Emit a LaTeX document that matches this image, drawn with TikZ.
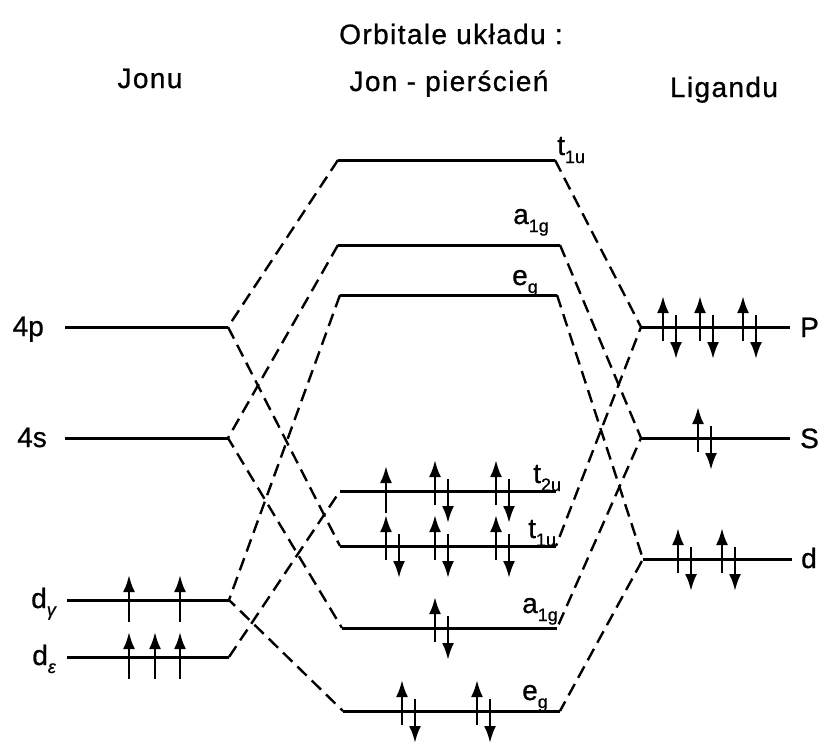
\documentclass[tikz,border=0pt]{standalone}
\usepackage{fontspec}
\setmainfont{Liberation Sans}[FakeBold=0.8]
\usetikzlibrary{arrows.meta}
\newcommand{\lsub}[1]{\raisebox{-8pt}{\fontsize{18}{19}\selectfont #1}}
\tikzset{
  lev/.style={line width=3pt},
  link/.style={line width=2.4pt, dash pattern=on 13pt off 7pt},
  hdr/.style={font=\fontsize{28}{30}\selectfont\addfontfeature{LetterSpace=5}, inner sep=0pt, anchor=base},
  lbl/.style={font=\fontsize{28}{30}\selectfont, inner sep=0pt},
  spin/.style={line width=2.6pt, -{Latex[length=17pt,width=12pt]}},
  sup/.pic={\draw[spin] (0,22) -- (0,-25);},
  pair/.pic={\draw[spin] (0,14) -- (0,-31); \draw[spin] (13,-12) -- (13,32);}
}
\begin{document}
\begin{tikzpicture}[x=1pt,y=-1pt]
\useasboundingbox (0,0) rectangle (818,742);

% headers
\node[hdr] (title) at (451,44) {Orbitale układu :};
\node[hdr] (hjonu) at (150,88) {Jonu};
\node[hdr] (hjp) at (449,91) {Jon - pierścień};
\node[hdr] (hlig) at (724,97) {Ligandu};

% left levels
\coordinate (pA) at (65,327);  \coordinate (pB) at (228,327);
\coordinate (sA) at (65,438);  \coordinate (sB) at (228,438);
\coordinate (gA) at (67,600);  \coordinate (gB) at (229,600);
\coordinate (eA) at (67,657);  \coordinate (eB) at (229,657);
% centre levels
\coordinate (t1A) at (338,160); \coordinate (t1B) at (555,160);
\coordinate (a1A) at (338,245); \coordinate (a1B) at (560,245);
\coordinate (e1A) at (340,295); \coordinate (e1B) at (557,295);
\coordinate (t2A) at (340,491); \coordinate (t2B) at (556,491);
\coordinate (t3A) at (340,546); \coordinate (t3B) at (556,546);
\coordinate (a2A) at (342,628); \coordinate (a2B) at (557,628);
\coordinate (e2A) at (343,711); \coordinate (e2B) at (560,711);
% right levels
\coordinate (PA) at (641,327); \coordinate (PB) at (790,327);
\coordinate (SA) at (641,438); \coordinate (SB) at (790,438);
\coordinate (dA) at (643,559); \coordinate (dB) at (792,559);

\foreach \a/\b in {pA/pB,sA/sB,gA/gB,eA/eB,t1A/t1B,a1A/a1B,e1A/e1B,t2A/t2B,t3A/t3B,a2A/a2B,e2A/e2B,PA/PB,SA/SB,dA/dB}
  \draw[lev] (\a) -- (\b);

% dashed correlation lines
\draw[link] (t1A) -- (pB) -- (t3A);
\draw[link] (a1A) -- (sB) -- (a2A);
\draw[link] (e1A) -- (gB) -- (e2A);
\draw[link] (eB) -- (t2A);
\draw[link] (t1B) -- (PA) -- (t3B);
\draw[link] (a1B) -- (SA) -- (a2B);
\draw[link] (e1B) -- (dA) -- (e2B);

% labels
\node[lbl, anchor=base east] (l4p) at (44,336) {4p};
\node[lbl, anchor=base east] (l4s) at (47,447) {4s};
\node[lbl, anchor=base east] (ldg) at (56,608) {d\lsub{\itshape γ}};
\node[lbl, anchor=base east] (lde) at (56,665) {d\lsub{\itshape ε}};
\node[lbl, anchor=base west] (lP) at (800,337) {P};
\node[lbl, anchor=base west] (lS) at (800,448) {S};
\node[lbl, anchor=base west] (ld) at (801,568) {d};
\node[lbl, anchor=base west] (lt1) at (557,155) {t\lsub{1u}};
\node[lbl, anchor=base west] (la1) at (513,224) {a\lsub{1g}};
\node[lbl, anchor=base west] (le1) at (512,285) {e\lsub{g}};
\node[lbl, anchor=base west] (lt2) at (533,483) {t\lsub{2u}};
\node[lbl, anchor=base west] (lt3) at (528,538) {t\lsub{1u}};
\node[lbl, anchor=base west] (la2) at (522,613) {a\lsub{1g}};
\node[lbl, anchor=base west] (le2) at (522,700) {e\lsub{g}};

% electrons
\pic at (129,600) {sup}; \pic at (180,600) {sup};
\pic at (129,657) {sup}; \pic at (155,657) {sup}; \pic at (180,657) {sup};
\pic at (386,491) {sup}; \pic at (435,491) {pair}; \pic at (496,491) {pair};
\pic at (386,546) {pair}; \pic at (435,546) {pair}; \pic at (496,546) {pair};
\pic at (435,628) {pair};
\pic at (402,711) {pair}; \pic at (477,711) {pair};
\pic at (663,327) {pair}; \pic at (700,327) {pair}; \pic at (743,327) {pair};
\pic at (698,438) {pair};
\pic at (678,559) {pair}; \pic at (722,559) {pair};
\end{tikzpicture}
\end{document}
